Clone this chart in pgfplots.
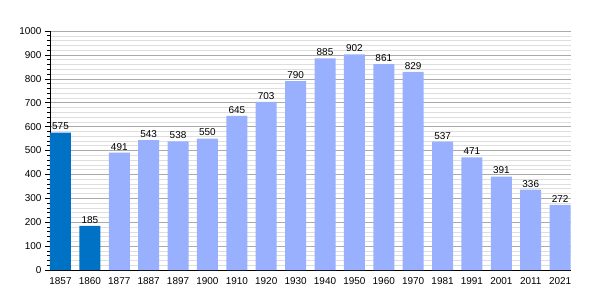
\documentclass[border=0pt]{standalone}
\usepackage{pgfplots}
\pgfplotsset{compat=1.18}
\usepackage{fontspec}
\setmainfont{Liberation Sans}
\definecolor{darkbar}{RGB}{0,114,198}
\definecolor{lightbar}{RGB}{153,176,255}
\definecolor{majgrid}{RGB}{170,170,170}
\definecolor{mingrid}{RGB}{222,222,222}
\begin{document}
\begin{tikzpicture}
\useasboundingbox (-50bp,-30bp) rectangle (550bp,270bp);
\begin{axis}[
  scale only axis,
  width=521bp, height=239bp,
  xmin=-0.357, xmax=17.37,
  ymin=0, ymax=1000,
  axis lines*=left,
  axis line style={black, line width=0.8pt},
  ytick={0,100,...,1000},
  minor y tick num=4,
  ymajorgrids, yminorgrids,
  major grid style={majgrid, line width=0.6pt},
  minor grid style={mingrid, line width=0.5pt},
  tick align=outside,
  major tick length=5bp,
  minor tick length=3bp,
  tick style={black, line width=0.6pt},
  xtick={0,...,17},
  xticklabels={1857,1860,1877,1887,1897,1900,1910,1920,1930,1940,1950,1960,1970,1981,1991,2001,2011,2021},
  x tick style={draw=none},
  xticklabel style={yshift=1bp},
  ticklabel style={font=\fontsize{10}{12}\selectfont},
  /pgf/number format/assume math mode=true,
  /pgf/number format/1000 sep={},
  ylabel style={font=\fontsize{10}{12}\selectfont},
  bar width=21bp,
  nodes near coords,
  every node near coord/.append style={font=\fontsize{10}{12}\selectfont, black, yshift=-1bp},
  axis on top=false,
]
\addplot[ybar, fill=darkbar, draw=none, bar shift=0pt] coordinates {(0,575) (1,185)};
\addplot[ybar, fill=lightbar, draw=none, bar shift=0pt] coordinates {
(2,491) (3,543) (4,538) (5,550) (6,645) (7,703) (8,790) (9,885) (10,902) (11,861) (12,829) (13,537) (14,471) (15,391) (16,336) (17,272)};
\end{axis}
\end{tikzpicture}
\end{document}
